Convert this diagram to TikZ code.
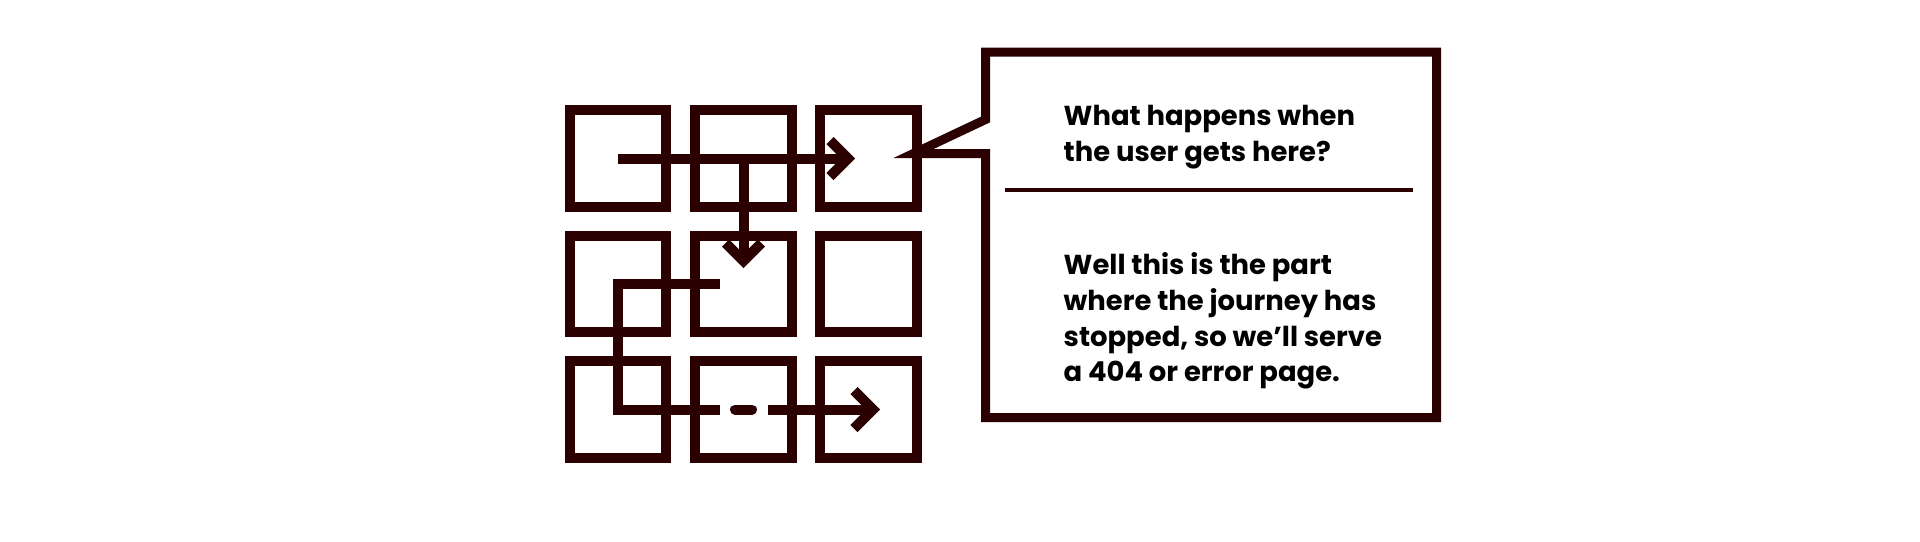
\documentclass[tikz,border=0pt]{standalone}
\usepackage{fontspec}
\setmainfont{Poppins}
\usetikzlibrary{calc}
\definecolor{ink}{HTML}{2A0000}
\begin{document}
\begin{tikzpicture}[x=0.01cm,y=-0.01cm,
  cell/.style={draw=ink,line width=0.1cm,minimum size=0.96cm,inner sep=0pt},
  route/.style={draw=ink,line width=0.1cm,line join=miter,line cap=butt},
  txt/.style={anchor=north west,inner sep=0pt,align=left,text=black,font=\bfseries\fontsize{7.8}{10.19}\selectfont}]
\useasboundingbox (0,0) rectangle (1920,541);
\fill[white] (0,0) rectangle (1920,541);
% grid of pages
\foreach \r/\y in {1/158.5,2/284,3/409.5}
  \foreach \c/\x in {1/618,2/743.5,3/868.5}
    \node[cell] (s\r\c) at (\x,\y) {};
% first route
\coordinate (t1) at (848,158.5);
\draw[route] (s11.center) -- (t1);
\draw[route] ($(t1)+(-18,-18)$) -- (t1) -- ($(t1)+(-18,18)$);
\coordinate (t2) at ($(s22.center)+(0,-23)$);
\draw[route] (s12.center) -- (t2);
\draw[route] ($(t2)+(-18,-18)$) -- (t2) -- ($(t2)+(18,-18)$);
% second route
\coordinate (p0) at ($(s22.center)+(-23.5,0)$);
\coordinate (p1) at (720,409.5);
\draw[route] (p0) -- (s21.center) -- (s31.center) -- (p1);
\draw[ink,line width=0.1cm,line cap=round] (735,409.5) -- (752,409.5);
\coordinate (p2) at (768,409.5);
\coordinate (t3) at (873,409.5);
\draw[route] (p2) -- (t3);
\draw[route] ($(t3)+(-19,-19)$) -- (t3) -- ($(t3)+(-19,19)$);
% callout
\coordinate (tip) at (913.5,153.5);
\draw[draw=ink,line width=0.09cm,line join=miter] (985.5,52) -- (1436.5,52) -- (1436.5,417.5) -- (985.5,417.5) -- (985.5,153.5) -- (tip) -- (985.5,119.5) -- cycle;
\draw[ink,line width=0.04cm] (1005,190) -- (1413,190);
\node[txt] (q) at (1063,104.7) {What happens when\\the user gets here?};
\node[txt] (a) at (1063,251.7) {Well this is the part\\where the journey has\\stopped, so we’ll serve\\a 404 or error page.};
\end{tikzpicture}
\end{document}
